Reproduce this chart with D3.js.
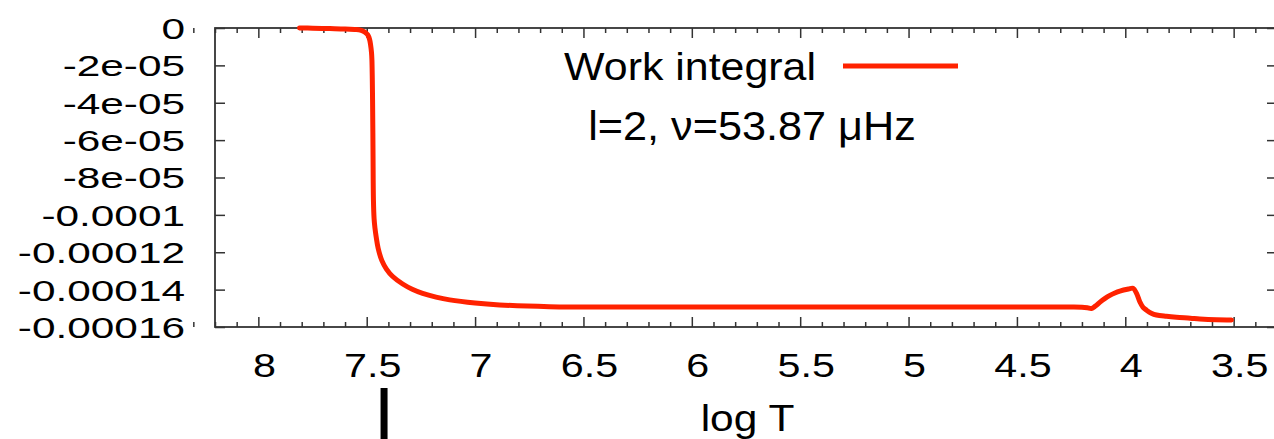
<!DOCTYPE html>
<html>
<head>
<meta charset="utf-8">
<script src="https://cdn.jsdelivr.net/npm/d3@7"></script>
<style>
  html, body { margin: 0; padding: 0; background: #fff; }
  svg { display: block; font-family: "Liberation Sans", Arial, Helvetica, sans-serif; }
</style>
</head>
<body>
<svg id="chart" width="1274" height="439"></svg>
<script>
// Work integral profile against log T (temperature decreasing to the right)
const logT = [7.81, 7.75, 7.67, 7.60, 7.556, 7.53, 7.519, 7.505, 7.495, 7.487, 7.482, 7.478, 7.476, 7.473, 7.471, 7.469, 7.466, 7.462, 7.456, 7.447, 7.43, 7.409, 7.38, 7.334, 7.29, 7.242, 7.18, 7.117, 7.0, 6.887, 6.657, 6.3, 5.8, 5.3, 4.8, 4.5, 4.35, 4.25, 4.2, 4.175, 4.156, 4.138, 4.118, 4.095, 4.071, 4.048, 4.025, 3.985, 3.964, 3.948, 3.933, 3.918, 3.902, 3.88, 3.856, 3.81, 3.764, 3.70, 3.656, 3.579, 3.51];
const workIntegral = [0.0, -0.1e-6, -0.3e-6, -0.5e-6, -0.8e-6, -1.1e-6, -1.6e-6, -2.5e-6, -3.7e-6, -6.0e-6, -9.1e-6, -1.3e-5, -1.71e-5, -3.85e-5, -6.53e-5, -9.2e-5, -1.02e-4, -1.07e-4, -1.12e-4, -1.18e-4, -1.245e-4, -1.29e-4, -1.33e-4, -1.37e-4, -1.398e-4, -1.42e-4, -1.44e-4, -1.455e-4, -1.472e-4, -1.482e-4, -1.491e-4, -1.493e-4, -1.493e-4, -1.493e-4, -1.493e-4, -1.493e-4, -1.493e-4, -1.493e-4, -1.494e-4, -1.497e-4, -1.501e-4, -1.488e-4, -1.468e-4, -1.448e-4, -1.431e-4, -1.418e-4, -1.408e-4, -1.397e-4, -1.393e-4, -1.42e-4, -1.465e-4, -1.495e-4, -1.51e-4, -1.526e-4, -1.536e-4, -1.543e-4, -1.548e-4, -1.553e-4, -1.557e-4, -1.561e-4, -1.562e-4];

const xTicks = [8, 7.5, 7, 6.5, 6, 5.5, 5, 4.5, 4, 3.5];
const xTickLabels = ["8", "7.5", "7", "6.5", "6", "5.5", "5", "4.5", "4", "3.5"];
const yTicks = [0, -2e-5, -4e-5, -6e-5, -8e-5, -1e-4, -1.2e-4, -1.4e-4, -1.6e-4];
const yTickLabels = ["0", "-2e-05", "-4e-05", "-6e-05", "-8e-05", "-0.0001", "-0.00012", "-0.00014", "-0.00016"];
const legendLabel = "Work integral";
const modeLabel = "l=2, \u03bd=53.87 \u03bcHz";
const xTitle = "log T";
const markerLogT = 7.42;

const W = 1274, H = 439;
const plotLeft = 215, plotRight = 1277, plotTop = 28, plotBottom = 327;
const lineColor = "#ff2200";
const axisColor = "#333";

const x = d3.scaleLinear().domain([8.2, 3.3]).range([plotLeft, plotRight]);
const y = d3.scaleLinear().domain([-0.00016, 0]).range([plotBottom, plotTop]);

const svg = d3.select("#chart");

// Stretch a text element horizontally to the given factor of its natural width
function stretch(sel, factor) {
  sel.each(function () {
    const w = this.getComputedTextLength();
    d3.select(this).attr("textLength", w * factor).attr("lengthAdjust", "spacingAndGlyphs");
  });
}

const minorTicks = d3.range(83, 32, -1).map(v => v / 10).filter(v => !xTicks.some(t => Math.abs(t - v) < 1e-9));

function styleAxis(g) {
  g.select(".domain").remove();
  g.selectAll(".tick line").attr("stroke", axisColor).attr("stroke-width", 1.5);
}

// bottom axis: major + minor ticks
const gBottom = svg.append("g").attr("transform", `translate(0,${plotBottom})`)
  .call(d3.axisBottom(x).tickValues(xTicks).tickSize(-10).tickSizeOuter(0)
    .tickFormat((d, i) => xTickLabels[i]));
styleAxis(gBottom);
gBottom.selectAll(".tick text")
  .attr("fill", "#000").attr("font-size", 33).attr("y", 50).attr("dy", 0).attr("dx", 5.5)
  .call(stretch, 1.25);
svg.append("g").attr("transform", `translate(0,${plotBottom})`)
  .call(d3.axisBottom(x).tickValues(minorTicks).tickSize(-5).tickSizeOuter(0).tickFormat(""))
  .call(styleAxis);

// top axis mirror
svg.append("g").attr("transform", `translate(0,${plotTop})`)
  .call(d3.axisTop(x).tickValues(xTicks).tickSize(-10).tickSizeOuter(0).tickFormat(""))
  .call(styleAxis);
svg.append("g").attr("transform", `translate(0,${plotTop})`)
  .call(d3.axisTop(x).tickValues(minorTicks).tickSize(-5).tickSizeOuter(0).tickFormat(""))
  .call(styleAxis);

// left axis
const gLeft = svg.append("g").attr("transform", `translate(${plotLeft},0)`)
  .call(d3.axisLeft(y).tickValues(yTicks).tickSize(-10).tickSizeOuter(0).tickPadding(30)
    .tickFormat((d, i) => yTickLabels[i]));
styleAxis(gLeft);
gLeft.selectAll(".tick text")
  .attr("fill", "#000").attr("font-size", 29).attr("dy", "0.36em")
  .call(stretch, 1.46);

// right axis mirror
svg.append("g").attr("transform", `translate(${plotRight},0)`)
  .call(d3.axisRight(y).tickValues(yTicks).tickSize(-10).tickSizeOuter(0).tickFormat(""))
  .call(styleAxis);

// frame
svg.append("rect")
  .attr("x", plotLeft).attr("y", plotTop).attr("width", plotRight - plotLeft).attr("height", plotBottom - plotTop)
  .attr("fill", "none").attr("stroke", axisColor).attr("stroke-width", 1.8);

// curve
const pts = logT.map((t, i) => [t, workIntegral[i]]);
const line = d3.line().x(d => x(d[0])).y(d => y(d[1])).curve(d3.curveCatmullRom.alpha(0.5));
svg.append("path").datum(pts)
  .attr("d", line)
  .attr("fill", "none").attr("stroke", lineColor).attr("stroke-width", 5)
  .attr("stroke-linejoin", "round").attr("stroke-linecap", "round");

// legend
const tLegend = svg.append("text").attr("x", 816).attr("y", 80)
  .attr("text-anchor", "end").attr("font-size", 39).attr("fill", "#000").text(legendLabel);
stretch(tLegend, 1.1);
svg.append("line").attr("x1", 843).attr("x2", 958).attr("y1", 66).attr("y2", 66)
  .attr("stroke", lineColor).attr("stroke-width", 5);

const tMode = svg.append("text").attr("x", 752).attr("y", 140)
  .attr("text-anchor", "middle").attr("font-size", 40).attr("fill", "#000").text(modeLabel);
stretch(tMode, 1.08);

// x title
const tTitle = svg.append("text").attr("x", 747.5).attr("y", 431)
  .attr("text-anchor", "middle").attr("font-size", 36).attr("fill", "#000").text(xTitle);
stretch(tTitle, 1.18);

// marker bar below the axis
svg.append("line").attr("x1", x(markerLogT)).attr("x2", x(markerLogT))
  .attr("y1", 388).attr("y2", H)
  .attr("stroke", "#000").attr("stroke-width", 7);
</script>
</body>
</html>
